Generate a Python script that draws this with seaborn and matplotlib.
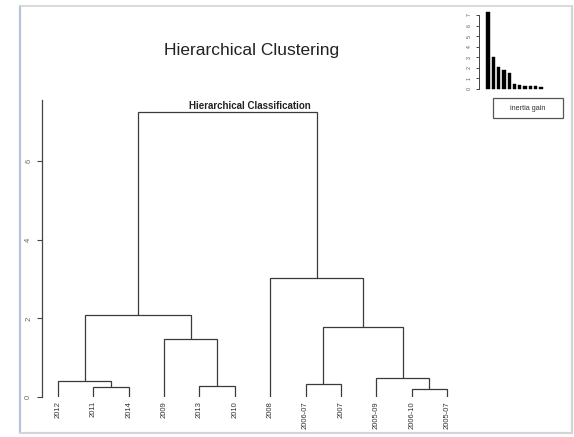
import matplotlib
matplotlib.use("Agg")
import matplotlib.pyplot as plt
from matplotlib.lines import Line2D
from matplotlib.patches import Rectangle
import seaborn as sns
import pandas as pd

# ---- data ----
leaf_labels = ["2012", "2011", "2014", "2009", "2013", "2010",
               "2008", "2006-07", "2007", "2005-09", "2006-10", "2005-07"]
# merges: (left child, right child, height); children are leaf labels or merge indices ("m<i>")
merge_left = ["2011", "2012", "2013", "2009", "m1", "2006-10", "2006-07", "2005-09", "m6", "2008", "m4"]
merge_right = ["2014", "m0", "2010", "m2", "m3", "2005-07", "2007", "m5", "m7", "m8", "m9"]
merge_height = [0.25, 0.41, 0.28, 1.48, 2.08, 0.20, 0.33, 0.48, 1.78, 3.03, 7.25]
inertia_gain = [7.25, 3.03, 2.08, 1.78, 1.48, 0.48, 0.41, 0.33, 0.28, 0.25, 0.20]
y_ticks = [0, 2, 4, 6]
inset_ticks = [0, 1, 2, 3, 4, 5, 6, 7]

W, H = 574, 437
sns.set_style("white")
plt.rcParams["font.family"] = ["Liberation Sans", "DejaVu Sans"]

fig = plt.figure(figsize=(W / 100, H / 100), dpi=100)


def fx(x):
    return x / W


def fy(y):
    return 1 - y / H


# screenshot frame
frame_col = "#d4d4d4"
fig.add_artist(Line2D([fx(20), fx(20)], [fy(6), fy(433)], color="#b8c2d8", lw=1.6))
fig.add_artist(Line2D([fx(20), fx(572)], [fy(6), fy(6)], color=frame_col, lw=1.2))
fig.add_artist(Line2D([fx(572), fx(572)], [fy(6), fy(433)], color=frame_col, lw=1.6))
fig.add_artist(Line2D([fx(20), fx(572)], [fy(433), fy(433)], color=frame_col, lw=1.6))

# ---- main dendrogram axes ----
ax = fig.add_axes([fx(42), fy(397), (470 - 42) / W, (397 - 100) / H])
ax.set_facecolor("none")
pos = {lab: float(i) for i, lab in enumerate(leaf_labels)}
hgt = {lab: 0.0 for lab in leaf_labels}
line_col = "#3a3a3a"
for i, (l, r, h) in enumerate(zip(merge_left, merge_right, merge_height)):
    xl, xr = pos[l], pos[r]
    ax.plot([xl, xl, xr, xr], [hgt[l], h, h, hgt[r]], color=line_col, lw=0.9,
            solid_joinstyle="miter")
    key = f"m{i}"
    pos[key] = (xl + xr) / 2
    hgt[key] = h

spacing = (447 - 58) / 11
ax.set_xlim(-(58 - 42) / spacing, (470 - 58) / spacing)
ax.set_ylim(0, 7.56)
for s in ["top", "right", "bottom"]:
    ax.spines[s].set_visible(False)
ax.spines["left"].set_color("#444444")
ax.spines["left"].set_linewidth(0.9)
ax.set_yticks(y_ticks)
ax.set_yticklabels([str(t) for t in y_ticks], rotation=90, va="center",
                   fontsize=5.5, color="#666666")
ax.tick_params(axis="y", length=3.6, width=0.8, color="#444444", pad=3.5, left=True)
ax.set_xticks(range(len(leaf_labels)))
ax.set_xticklabels(leaf_labels, rotation=90, fontsize=5.5, color="#333333")
ax.tick_params(axis="x", length=0, pad=3)
ax.set_xlabel("")
ax.set_ylabel("")

# titles
fig.text(fx(252), fy(50), "Hierarchical Clustering", ha="center", va="center",
         fontsize=12.5, color="#222222")
fig.text(fx(250), fy(106), "Hierarchical Classification", ha="center", va="center",
         fontsize=7, fontweight="bold", color="#222222")

# ---- inset: inertia gain ----
ax2 = fig.add_axes([fx(479), fy(89), (552 - 479) / W, (89 - 9.7) / H])
ax2.set_facecolor("none")
df = pd.DataFrame({"k": list(range(len(inertia_gain))), "gain": inertia_gain})
sns.barplot(data=df, x="k", y="gain", color="black", saturation=1, width=0.62,
            edgecolor="black", linewidth=0.3, ax=ax2, clip_on=False)
bsp = 5.3
ax2.set_xlim(-(488 - 479) / bsp, (552 - 488) / bsp)
ax2.set_ylim(0, 7.5)
for s in ["top", "right", "bottom"]:
    ax2.spines[s].set_visible(False)
ax2.spines["left"].set_bounds(0, 7)
ax2.spines["left"].set_color("#444444")
ax2.spines["left"].set_linewidth(0.7)
ax2.set_xticks([])
ax2.set_yticks(inset_ticks)
ax2.set_yticklabels([str(t) for t in inset_ticks], rotation=90, va="center",
                    fontsize=3.8, color="#555555")
ax2.tick_params(axis="y", length=2.2, width=0.6, pad=3, left=True)
ax2.set_xlabel("")
ax2.set_ylabel("")

# legend-like box
fig.add_artist(Rectangle((fx(493), fy(118)), (563 - 493) / W, (118 - 98) / H,
                         transform=fig.transFigure, fill=False,
                         edgecolor="#555555", lw=0.9))
fig.text(fx(528), fy(108), "inertia gain", ha="center", va="center",
         fontsize=5.2, color="#333333")

fig.savefig("out.png", dpi=100)
